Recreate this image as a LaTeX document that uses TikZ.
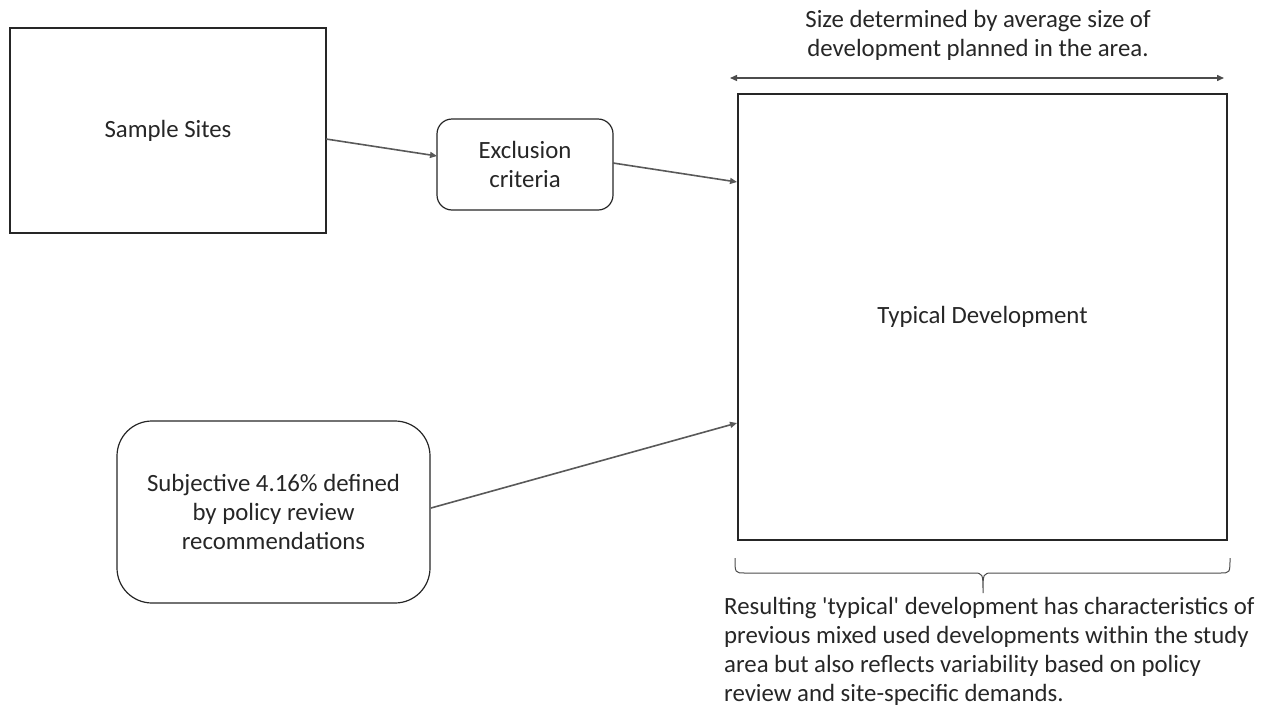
\documentclass[tikz,border=0pt]{standalone}
\usepackage{fontspec}
\setmainfont{Carlito}[Ligatures=TeXOff]
\usetikzlibrary{arrows.meta}
\begin{document}
\begin{tikzpicture}[x=1pt,y=-1pt,
  every node/.style={font=\fontsize{24.8}{29}\selectfont, text=black!85},
  box/.style={draw=black!85, line width=1.2pt, inner sep=0pt},
  rbox/.style={box, rounded corners=#1},
  conn/.style={draw=black!65, line width=1.6pt, -{Triangle[length=7pt,width=6pt]}},
  dim/.style={draw=black!70, line width=1.4pt, {Triangle[length=7pt,width=6pt]}-{Triangle[length=7pt,width=6pt]}}]
\useasboundingbox (0,0) rectangle (1269,718);
\node[box, minimum width=316pt, minimum height=205pt] (sample) at (168,130.5) {Sample Sites};
\node[rbox=15pt, minimum width=176pt, minimum height=91pt, align=center] (excl) at (525,164.5) {Exclusion\\criteria};
\node[box, minimum width=489pt, minimum height=446pt] (typ) at (982.5,317) {Typical Development};
\node[rbox=35pt, minimum width=313pt, minimum height=182pt, align=center] (subj) at (273.5,512) {Subjective 4.16\% defined\\by policy review\\recommendations};
\coordinate (a1s) at (326,139);
\coordinate (a1e) at (437,156);
\coordinate (a2s) at (613,163);
\coordinate (a2e) at (737,182);
\coordinate (a3s) at (431,508);
\coordinate (a3e) at (737,423);
\draw[conn] (a1s) -- (a1e);
\draw[conn] (a2s) -- (a2e);
\draw[conn] (a3s) -- (a3e);
\coordinate (dl) at (730,78);
\coordinate (dr) at (1224,78);
\draw[dim] (dl) -- (dr);
\node[align=center] (sizetxt) at (978,35) {Size determined by average size of\\development planned in the area.};
\coordinate (bl) at (735,558);
\coordinate (br) at (1230,558);
\coordinate (bt) at (983,593);
\draw[black!70, line width=1pt] (bl) .. controls (735,573) .. (745,573) -- (973,573) .. controls (983,573) .. (bt) .. controls (983,573) .. (993,573) -- (1220,573) .. controls (1230,573) .. (br);
\node[anchor=north west, align=left, inner sep=0pt] (restxt) at (724,597) {Resulting 'typical' development has characteristics of\\previous mixed used developments within the study\\area but also reflects variability based on policy\\review and site-specific demands.};
\end{tikzpicture}
\end{document}
